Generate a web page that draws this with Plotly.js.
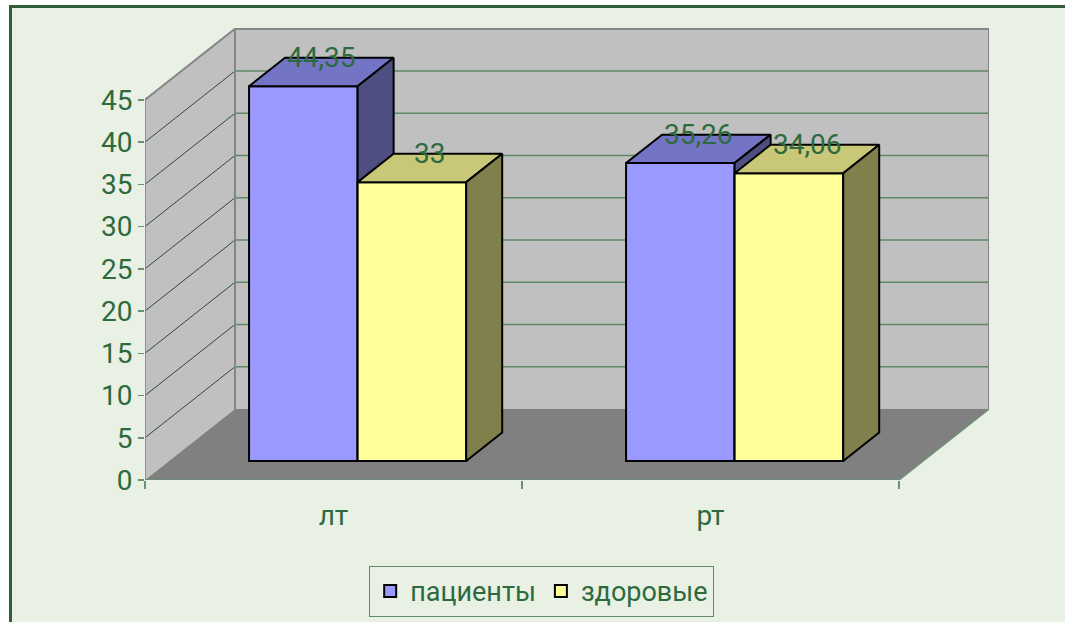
<!DOCTYPE html>
<html>
<head>
<meta charset="utf-8">
<script src="https://cdn.plot.ly/plotly-3.0.1.min.js"></script>
<style>
  html, body { margin:0; padding:0; background:#ffffff; }
  #frame { position:absolute; left:9px; top:5px; width:1060px; height:620px;
           border-left:3px solid #2E5E3C; border-top:3px solid #2E5E3C; background:#E9F1E4; }
  #chart { position:absolute; left:0; top:0; width:1065px; height:622px; }
</style>
</head>
<body>
<div id="frame"></div>
<div id="chart"></div>
<script>
// ---- data ----
const categories = ['лт', 'рт'];
const seriesNames = ['пациенты', 'здоровые'];
const patients = [44.35, 35.26];
const healthy = [33, 34.06];
const yTicks = [0, 5, 10, 15, 20, 25, 30, 35, 40, 45];

// ---- styling / geometry of the 3D look ----
const DX = 0.2387;   // depth offset in category units
const DY = 8.41;     // depth offset in value units
const D0 = 0.268;    // front of bars (fraction of depth)
const DEPTH = 0.40;  // bar depth (fraction of depth)
const W = 0.288;     // bar width (category units)
const YMAX = yTicks[yTicks.length - 1];
const X0 = -0.5, X1 = categories.length - 0.5;
const TXT = '#2D6A3E';
const FONT = 'Roboto, "Noto Sans", sans-serif';

const seriesStyle = [
  {front:'#9999FF', top:'#7474C6', side:'#4E4E80'},
  {front:'#FFFF99', top:'#C8C878', side:'#80804D'}
];

const traces = [];
function poly(xs, ys, fill, line, lw, axes, extra) {
  return Object.assign({type:'scatter', mode:'lines', x:xs, y:ys, fill:'toself', fillcolor:fill,
    line:{color:line, width:lw}, hoverinfo:'skip', showlegend:false,
    xaxis:axes[0], yaxis:axes[1], cliponaxis:false}, extra || {});
}
function lines(xs, ys, color, lw, axes) {
  return {type:'scatter', mode:'lines', x:xs, y:ys, line:{color:color, width:lw},
    hoverinfo:'skip', showlegend:false, xaxis:axes[0], yaxis:axes[1], cliponaxis:false};
}
const base = ['x', 'y'];

// walls & floor
traces.push(poly([X0, X0 + DX, X0 + DX, X0, X0], [0, DY, YMAX + DY, YMAX, 0], '#C0C0C0', 'rgba(0,0,0,0)', 0, base));
traces.push(poly([X0 + DX, X1 + DX, X1 + DX, X0 + DX, X0 + DX], [DY, DY, YMAX + DY, YMAX + DY, DY], '#C0C0C0', 'rgba(0,0,0,0)', 0, base));
traces.push(poly([X0, X1, X1 + DX, X0 + DX, X0], [0, 0, DY, DY, 0], '#808080', 'rgba(0,0,0,0)', 0, base));

// gridlines on back wall and left wall
const gbx = [], gby = [], glx = [], gly = [];
yTicks.forEach(v => {
  if (v === 0) return;
  gbx.push(X0 + DX, X1 + DX, null); gby.push(v + DY, v + DY, null);
  glx.push(X0, X0 + DX, null); gly.push(v, v + DY, null);
});
traces.push(lines(gbx, gby, '#5E8A68', 1.5, base));
traces.push(lines(glx, gly, '#2F4A3A', 1, base));
// wall edges
traces.push(lines([X0, X0 + DX, X1 + DX, X1 + DX], [YMAX, YMAX + DY, YMAX + DY, DY], '#858585', 2, base));
traces.push(lines([X0 + DX, X0 + DX], [DY, YMAX + DY], '#858585', 2, base));
// axis edges (front-left vertical, front floor edge, right floor edge)
traces.push(lines([X0, X0, X1, X1 + DX], [YMAX, 0, 0, DY], '#6E8F76', 1.5, base));

// bars
const annotations = [];
[patients, healthy].forEach((vals, s) => {
  const ax = ['x' + (s + 2), 'y' + (s + 2)];
  const st = seriesStyle[s];
  const side = s === 0 ? -1 : 1;
  const bx = DEPTH * DX, by = DEPTH * DY;
  const y0 = D0 * DY;
  const xs = vals.map((v, i) => i + side * W / 2 + D0 * DX);
  traces.push({type:'bar', name:seriesNames[s], x:xs, y:vals, base:vals.map(() => y0), width:W,
    marker:{color:st.front, line:{color:'#000000', width:2}}, xaxis:ax[0], yaxis:ax[1],
    hoverinfo:'skip', cliponaxis:false});
  vals.forEach((v, i) => {
    const xl = xs[i] - W / 2, xr = xs[i] + W / 2, top = v + y0;
    traces.push(poly([xl, xr, xr + bx, xl + bx, xl], [top, top, top + by, top + by, top], st.top, '#000000', 2, ax));
    traces.push(poly([xr, xr + bx, xr + bx, xr, xr], [y0, y0 + by, top + by, top, y0], st.side, '#000000', 2, ax));
    annotations.push({x:xs[i] + bx / 2, y:top + by, xref:'x', yref:'y', text:String(v).replace('.', ','),
      showarrow:false, xanchor:'center', yanchor:'middle', font:{family:FONT, size:28, color:TXT}});
  });
});

const xr = [X0, X1 + DX];
const yr = [0, 53.5];
const layout = {
  width:1065, height:622,
  margin:{l:145, r:76, t:28, b:142, pad:0, autoexpand:false},
  paper_bgcolor:'rgba(0,0,0,0)', plot_bgcolor:'rgba(0,0,0,0)',
  font:{family:FONT, color:TXT},
  xaxis:{range:xr, tickvals:categories.map((c, i) => i), ticktext:categories, ticks:'',
    showgrid:false, zeroline:false, showline:false, fixedrange:true, automargin:false, ticklabelstandoff:16,
    tickfont:{family:FONT, size:28, color:TXT},
    minor:{tickmode:'array', tickvals:categories.map((c, i) => i - 0.5).concat([X1]), ticks:'outside', ticklen:8, tickcolor:'#6E8F76', tickwidth:1.5, showgrid:false}},
  yaxis:{range:yr, tickvals:yTicks, ticks:'outside', ticklen:6, tickcolor:'#6E8F76', tickwidth:1.5,
    showgrid:false, zeroline:false, showline:false, fixedrange:true, automargin:false,
    tickfont:{family:FONT, size:28, color:TXT}},
  xaxis2:{overlaying:'x', range:xr, visible:false, fixedrange:true},
  yaxis2:{overlaying:'y', range:yr, visible:false, fixedrange:true},
  xaxis3:{overlaying:'x', range:xr, visible:false, fixedrange:true},
  yaxis3:{overlaying:'y', range:yr, visible:false, fixedrange:true},
  showlegend:true,
  legend:{orientation:'h', x:0.47, xanchor:'center', y:-0.19, yanchor:'top',
    bordercolor:'#5E8C66', borderwidth:1, bgcolor:'rgba(0,0,0,0)',
    font:{family:FONT, size:27, color:TXT}, traceorder:'normal'},
  annotations:annotations
};
Plotly.newPlot('chart', traces, layout, {displayModeBar:false, staticPlot:true});
</script>
</body>
</html>
